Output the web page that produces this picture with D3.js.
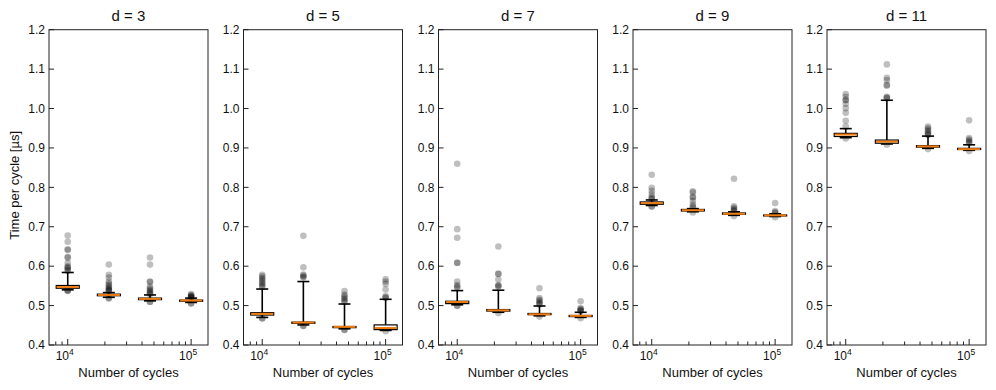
<!DOCTYPE html>
<html>
<head>
<meta charset="UTF-8">
<title>Time per cycle vs number of cycles</title>
<script src="https://d3js.org/d3.v7.min.js"></script>
<style>
  body { margin: 0; background: #fff; }
  svg text { font-family: "Liberation Sans", Arial, Helvetica, sans-serif; fill: #111; }
</style>
</head>
<body>
<svg id="chart" width="996" height="390"></svg>
<script>
// panel titles (code distance d)
const distances = [3, 5, 7, 9, 11];
// x positions of the four boxes
const cycles = [10000, 21544, 46416, 100000];
const yTicks = [0.4, 0.5, 0.6, 0.7, 0.8, 0.9, 1.0, 1.1, 1.2];

// per box: [lower whisker, q1, median, q3, upper whisker]
const stats_d3 = [[0.540, 0.544, 0.547, 0.551, 0.584], [0.521, 0.525, 0.527, 0.529, 0.533], [0.512, 0.515, 0.517, 0.519, 0.527], [0.508, 0.511, 0.513, 0.514, 0.519]];
const stats_d5 = [[0.470, 0.476, 0.479, 0.482, 0.542], [0.451, 0.455, 0.457, 0.458, 0.561], [0.441, 0.444, 0.446, 0.447, 0.504], [0.437, 0.439, 0.443, 0.451, 0.516]];
const stats_d7 = [[0.502, 0.505, 0.509, 0.511, 0.538], [0.483, 0.486, 0.488, 0.490, 0.539], [0.474, 0.477, 0.478, 0.480, 0.499], [0.470, 0.472, 0.474, 0.475, 0.483]];
const stats_d9 = [[0.754, 0.757, 0.760, 0.763, 0.768], [0.738, 0.740, 0.742, 0.744, 0.746], [0.729, 0.732, 0.733, 0.735, 0.738], [0.726, 0.728, 0.729, 0.730, 0.733]];
const stats_d11 = [[0.926, 0.929, 0.934, 0.937, 0.949], [0.910, 0.912, 0.916, 0.920, 1.021], [0.899, 0.902, 0.904, 0.906, 0.930], [0.894, 0.896, 0.897, 0.899, 0.908]];

// outliers per box
const fliers_d3 = [
  [0.678, 0.662, 0.643, 0.641, 0.624, 0.621, 0.608, 0.600, 0.597, 0.595, 0.591, 0.588, 0.539, 0.538, 0.537],
  [0.604, 0.578, 0.571, 0.561, 0.556, 0.552, 0.548, 0.545, 0.542, 0.540, 0.538, 0.536, 0.519, 0.518],
  [0.622, 0.604, 0.561, 0.560, 0.548, 0.544, 0.540, 0.537, 0.534, 0.531, 0.529, 0.510, 0.509],
  [0.529, 0.527, 0.525, 0.523, 0.522, 0.521, 0.520, 0.506, 0.505]];
const fliers_d5 = [
  [0.578, 0.574, 0.570, 0.566, 0.562, 0.558, 0.554, 0.550, 0.547, 0.468, 0.467],
  [0.677, 0.597, 0.579, 0.576, 0.573, 0.571, 0.449, 0.448],
  [0.537, 0.528, 0.524, 0.520, 0.516, 0.512, 0.509, 0.439, 0.438],
  [0.567, 0.561, 0.555, 0.541, 0.524, 0.521, 0.519, 0.435]];
const fliers_d7 = [
  [0.860, 0.694, 0.672, 0.609, 0.608, 0.561, 0.552, 0.548, 0.545, 0.500, 0.499],
  [0.650, 0.581, 0.580, 0.566, 0.552, 0.550, 0.548, 0.481],
  [0.544, 0.519, 0.515, 0.512, 0.508, 0.505, 0.503, 0.472],
  [0.511, 0.494, 0.491, 0.489, 0.487, 0.486, 0.468]];
const fliers_d9 = [
  [0.832, 0.799, 0.791, 0.783, 0.776, 0.772, 0.770, 0.752, 0.751],
  [0.790, 0.787, 0.776, 0.774, 0.766, 0.757, 0.752, 0.749, 0.736],
  [0.822, 0.752, 0.748, 0.745, 0.742, 0.740, 0.727],
  [0.760, 0.740, 0.737, 0.735, 0.724]];
const fliers_d11 = [
  [1.037, 1.030, 1.022, 1.021, 1.012, 1.001, 0.989, 0.969, 0.954, 0.924],
  [1.112, 1.078, 1.072, 1.060, 1.058, 1.030, 1.028, 1.026, 0.908],
  [0.954, 0.950, 0.946, 0.942, 0.938, 0.935, 0.933, 0.897],
  [0.970, 0.925, 0.921, 0.918, 0.915, 0.912, 0.892]];

const allStats = [stats_d3, stats_d5, stats_d7, stats_d9, stats_d11];
const allFliers = [fliers_d3, fliers_d5, fliers_d7, fliers_d9, fliers_d11];

// layout
const panelLeft = [49, 243.5, 438.5, 633, 827];
const pw = 159, plotTop = 29.7, plotBottom = 345;
const boxW = 23, capW = 12;

const svg = d3.select("#chart");

const y = d3.scaleLinear().domain([0.4, 1.2]).range([plotBottom, plotTop]);
const x = d3.scaleLog().domain([7050, 137000]).range([0, pw]);

const minorTicks = [8000, 9000, 20000, 30000, 40000, 50000, 60000, 70000, 80000, 90000];

distances.forEach((d, i) => {
  const g = svg.append("g").attr("transform", `translate(${panelLeft[i]},0)`);

  // title
  g.append("text")
    .attr("x", pw / 2).attr("y", 21)
    .attr("text-anchor", "middle")
    .attr("font-size", 15)
    .text(`d = ${d}`);

  // y ticks (inward)
  g.selectAll(".ytick").data(yTicks).join("line")
    .attr("x1", 0).attr("x2", 5)
    .attr("y1", v => y(v)).attr("y2", v => y(v))
    .attr("stroke", "#222").attr("stroke-width", 1);
  g.selectAll(".ylab").data(yTicks).join("text")
    .attr("x", -4).attr("y", v => y(v) + 4.3)
    .attr("text-anchor", "end")
    .attr("font-size", 12)
    .text(v => v.toFixed(1));

  // x ticks
  g.selectAll(".xminor").data(minorTicks).join("line")
    .attr("x1", v => x(v)).attr("x2", v => x(v))
    .attr("y1", plotBottom).attr("y2", plotBottom - 3.5)
    .attr("stroke", "#222").attr("stroke-width", 1);
  g.selectAll(".xmajor").data([10000, 100000]).join("line")
    .attr("x1", v => x(v)).attr("x2", v => x(v))
    .attr("y1", plotBottom).attr("y2", plotBottom - 6)
    .attr("stroke", "#222").attr("stroke-width", 1);
  const xl = g.selectAll(".xlab").data([4, 5]).join("text")
    .attr("x", e => x(Math.pow(10, e)) - 3).attr("y", 360)
    .attr("text-anchor", "middle")
    .attr("font-size", 12);
  xl.append("tspan").text("10");
  xl.append("tspan").attr("dy", -5).attr("font-size", 8.5).text(e => e);

  g.append("text")
    .attr("x", pw / 2).attr("y", 377)
    .attr("text-anchor", "middle")
    .attr("font-size", 13)
    .text("Number of cycles");

  // fliers
  const pts = [];
  allFliers[i].forEach((arr, j) => arr.forEach(v => pts.push({ c: cycles[j], v })));
  g.selectAll(".flier").data(pts).join("circle")
    .attr("cx", p => x(p.c)).attr("cy", p => y(p.v))
    .attr("r", 3.3)
    .attr("fill", "#000").attr("fill-opacity", 0.25);

  // boxes
  const boxes = g.selectAll(".box").data(allStats[i].map((s, j) => ({ c: cycles[j], s })))
    .join("g");
  boxes.append("line")
    .attr("x1", b => x(b.c)).attr("x2", b => x(b.c))
    .attr("y1", b => y(b.s[3])).attr("y2", b => y(b.s[4]))
    .attr("stroke", "#000").attr("stroke-width", 1.6);
  boxes.append("line")
    .attr("x1", b => x(b.c)).attr("x2", b => x(b.c))
    .attr("y1", b => y(b.s[0])).attr("y2", b => y(b.s[1]))
    .attr("stroke", "#000").attr("stroke-width", 1.6);
  [0, 4].forEach(k => {
    boxes.append("line")
      .attr("x1", b => x(b.c) - capW / 2).attr("x2", b => x(b.c) + capW / 2)
      .attr("y1", b => y(b.s[k])).attr("y2", b => y(b.s[k]))
      .attr("stroke", "#000").attr("stroke-width", 1.6);
  });
  boxes.append("rect")
    .attr("x", b => x(b.c) - boxW / 2).attr("width", boxW)
    .attr("y", b => y(b.s[3])).attr("height", b => Math.max(1, y(b.s[1]) - y(b.s[3])))
    .attr("fill", "#fff").attr("stroke", "#000").attr("stroke-width", 1.2);
  boxes.append("line")
    .attr("x1", b => x(b.c) - boxW / 2 + 0.5).attr("x2", b => x(b.c) + boxW / 2 - 0.5)
    .attr("y1", b => y(b.s[2])).attr("y2", b => y(b.s[2]))
    .attr("stroke", "#f07c10").attr("stroke-width", 2);

  // frame
  g.append("rect")
    .attr("x", 0).attr("y", plotTop).attr("width", pw).attr("height", plotBottom - plotTop)
    .attr("fill", "none").attr("stroke", "#222").attr("stroke-width", 1);
});

// y axis label
svg.append("text")
  .attr("transform", `translate(19,${(plotTop + plotBottom) / 2 - 2}) rotate(-90)`)
  .attr("text-anchor", "middle")
  .attr("font-size", 13)
  .text("Time per cycle [µs]");
</script>
</body>
</html>
